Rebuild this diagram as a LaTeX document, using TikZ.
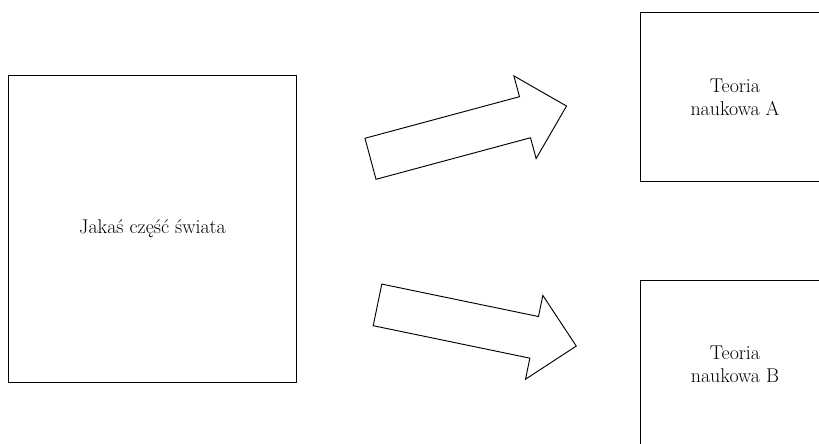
\documentclass[tikz,border=0pt]{standalone}
\usepackage{tikz}

\begin{document}
\begin{tikzpicture}[
    box/.style={draw, line width=0.8pt, align=center, inner sep=0pt,
                font=\fontsize{17}{19.8}\selectfont},
  ]
        \useasboundingbox (0,0) rectangle (24.57,13.32);
        \clip (0,0) rectangle (24.57,13.32);

        \node[box, minimum width=8.65cm, minimum height=9.21cm] (swiat) at (4.575,6.445) {Jakaś część świata};

        \node[box, minimum width=5.7cm, minimum height=5.07cm] (teoriaA) at (22.05,10.4) {Teoria\\naukowa A};
        \node[box, minimum width=5.7cm, minimum height=5.07cm] (teoriaB) at (22.05,2.385) {Teoria\\naukowa B};

        \draw[line width=0.8pt, line join=miter, shift={(11.115,8.556)}, rotate=15.06]
            (0,-0.6375) -- (0,0.6375) -- (4.8,0.6375) -- (4.8,1.284) -- (6.09,0)
            -- (4.8,-1.284) -- (4.8,-0.6375) -- cycle;

        \draw[line width=0.8pt, line join=miter, shift={(11.325,4.173)}, rotate=-11.7]
            (0,-0.6375) -- (0,0.6375) -- (4.8,0.6375) -- (4.8,1.284) -- (6.09,0)
            -- (4.8,-1.284) -- (4.8,-0.6375) -- cycle;
    \end{tikzpicture}
\end{document}
